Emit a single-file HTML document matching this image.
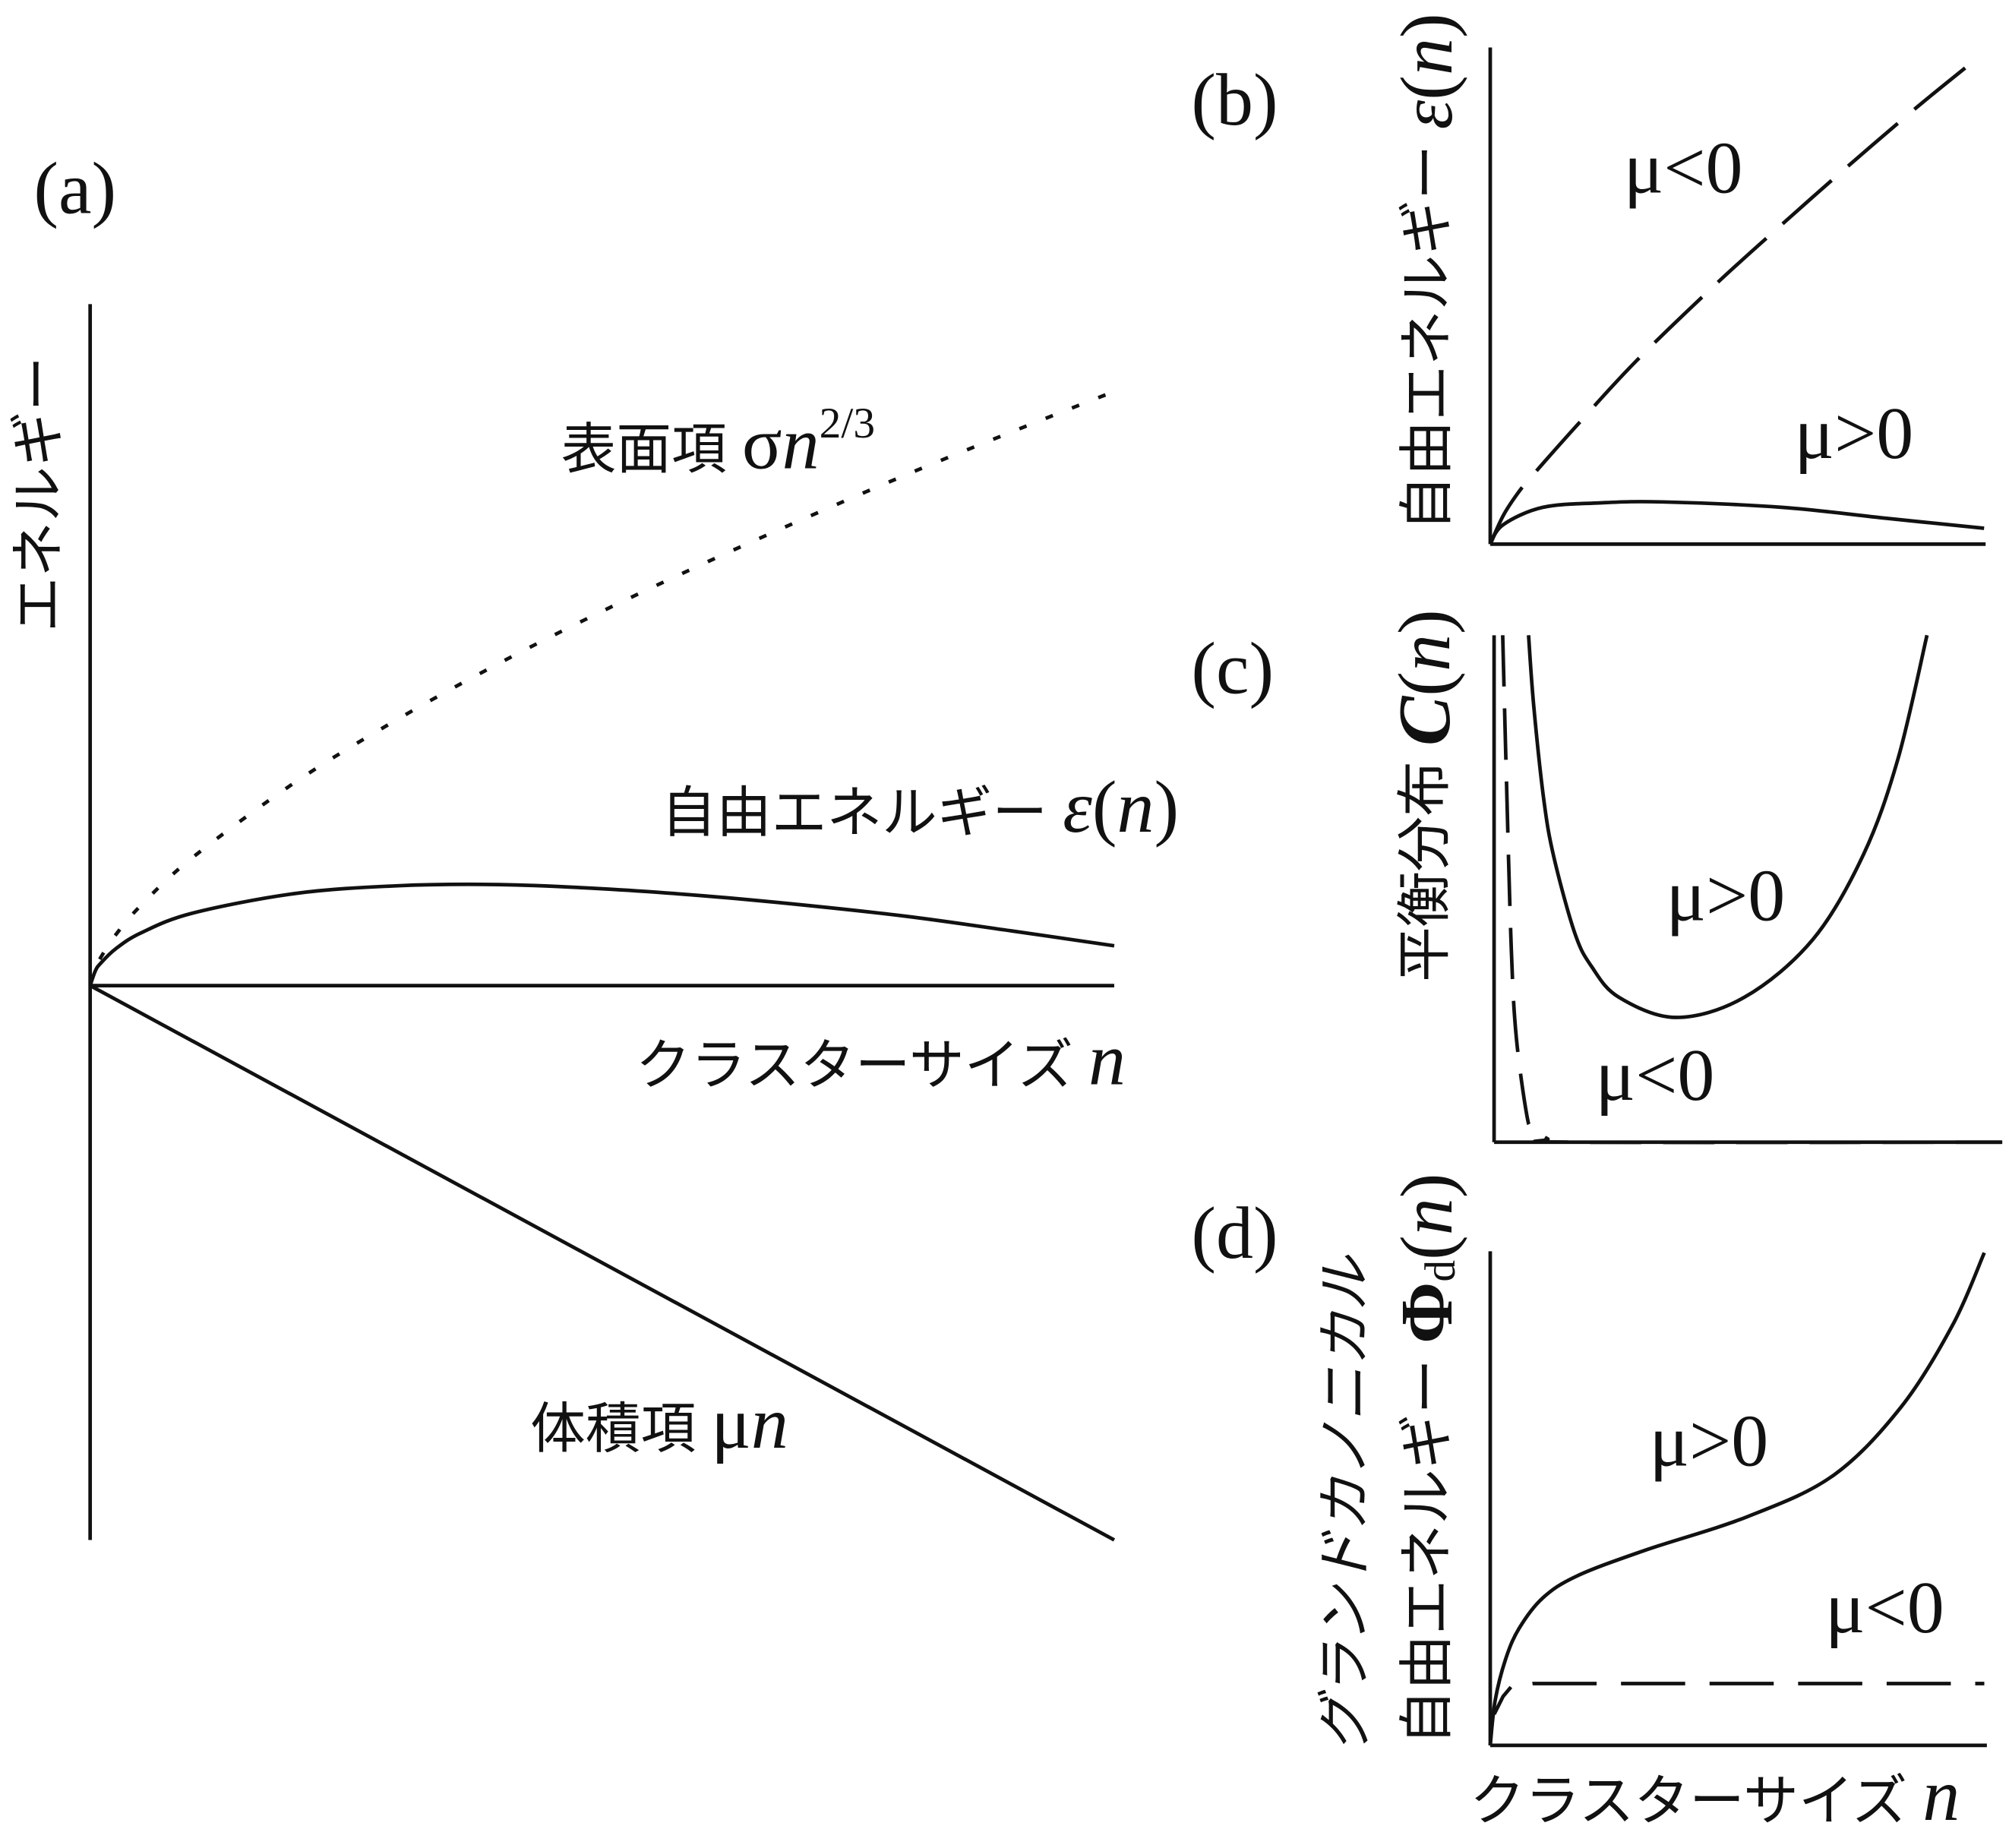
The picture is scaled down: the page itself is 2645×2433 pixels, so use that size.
<!DOCTYPE html>
<html><head><meta charset="utf-8"><style>
html,body{margin:0;padding:0;background:#fff}
svg{display:block}
text{fill:#111;font-family:"Liberation Serif","Noto Serif CJK SC",serif}
.jp{font-family:"Liberation Sans","Noto Sans CJK JP",sans-serif;font-size:43px}
.lbl{font-size:58px}
.m{font-family:"Liberation Serif",serif;font-size:58px}
.ln{fill:none;stroke:#111;stroke-width:2.8}
</style></head><body>
<svg id="chart" width="2645" height="2433" viewBox="0 0 1565 1440" xmlns="http://www.w3.org/2000/svg">
<g id="pa">
<line class="ln" x1="70" y1="237" x2="70" y2="1200"/>
<line class="ln" x1="70" y1="768" x2="868" y2="768"/>
<text class="lbl" x="26" y="166">(a)</text>
<text class="jp" transform="translate(30,385) rotate(-90)" text-anchor="middle" dominant-baseline="central">エネルギー</text>
<text class="jp" x="437" y="365">表面項 <tspan class="m">σ<tspan font-style="italic">n</tspan></tspan><tspan font-family="Liberation Serif" font-size="34" dy="-24">2/3</tspan></text>
<text class="jp" x="515" y="648">自由エネルギー <tspan class="m" font-style="italic">ε</tspan><tspan class="m">(<tspan font-style="italic">n</tspan>)</tspan></text>
<text class="jp" x="495" y="845">クラスターサイズ <tspan class="m" font-style="italic">n</tspan></text>
<text class="jp" x="413" y="1128">体積項 <tspan class="m">μ<tspan font-style="italic">n</tspan></tspan></text>
</g>
<g id="pb">
<line class="ln" x1="1161" y1="37" x2="1161" y2="424"/>
<line class="ln" x1="1161" y1="424" x2="1547" y2="424"/>
<text class="lbl" x="928" y="97">(b)</text>
<text class="jp" transform="translate(1112,212) rotate(-90)" text-anchor="middle" dominant-baseline="central">自由エネルギー <tspan class="m" font-style="italic">ε</tspan><tspan class="m">(<tspan font-style="italic">n</tspan>)</tspan></text>
<text class="lbl" x="1265" y="150">μ&lt;0</text>
<text class="lbl" x="1398" y="357">μ&gt;0</text>
</g>
<g id="pc">
<line class="ln" x1="1164" y1="495" x2="1164" y2="890"/>
<line class="ln" x1="1164" y1="890" x2="1560" y2="890"/>
<text class="lbl" x="928" y="540">(c)</text>
<text class="jp" transform="translate(1110,620) rotate(-90)" text-anchor="middle" dominant-baseline="central">平衡分布 <tspan class="m"><tspan font-style="italic" font-weight="bold">C</tspan>(<tspan font-style="italic">n</tspan>)</tspan></text>
<text class="lbl" x="1298" y="717">μ&gt;0</text>
<text class="lbl" x="1243" y="857">μ&lt;0</text>
</g>
<g id="pd">
<line class="ln" x1="1161" y1="975" x2="1161" y2="1360"/>
<line class="ln" x1="1161" y1="1360" x2="1548" y2="1360"/>
<text class="lbl" x="928" y="980">(d)</text>
<text class="jp" transform="translate(1048,1172) rotate(-90)" text-anchor="middle" dominant-baseline="central" font-style="italic">グランドカノニカル</text>
<text class="jp" transform="translate(1112,1137) rotate(-90)" text-anchor="middle" dominant-baseline="central">自由エネルギー <tspan class="m"><tspan font-weight="bold">Φ</tspan><tspan font-size="34" dy="10">d</tspan><tspan dy="-10">(</tspan><tspan font-style="italic">n</tspan>)</tspan></text>
<text class="lbl" x="1285" y="1142">μ&gt;0</text>
<text class="lbl" x="1422" y="1272">μ&lt;0</text>
<text class="jp" x="1145" y="1418">クラスターサイズ <tspan class="m" font-style="italic">n</tspan></text>
</g>
</svg>
<script>
// Panel (a)
const aN = [0,0.05,0.1,0.25,0.5,1,2,3,4,5,6,7,8,9,10];
const aSurface = [0,0.292,0.464,0.855,1.357,2.155,3.42,4.48,5.43,6.30,7.11,7.88,8.62,9.32,10];
const aFree = [0,0.245,0.371,0.62,0.89,1.22,1.55,1.68,1.70,1.63,1.51,1.35,1.16,0.92,0.67];
const aVolN = [0,10];
const aVolume = [0,-9.33];
// Panel (b)
const bDashN = [0,0.26,0.56,0.85,1.73,2.94,4.55,5.88,7.21,8.58,9.59];
const bDashV = [0,0.57,1.03,1.38,2.37,3.68,5.23,6.43,7.6,8.77,9.59];
const bSolidN = [0,0.26,1.06,2.2,3.48,5.9,8,9.97];
const bSolidV = [0,0.39,0.74,0.83,0.85,0.74,0.52,0.32];
// Panel (c)
const cSolidN = [0.68,0.78,0.98,1.18,1.59,1.92,2.46,3.59,4.94,6.29,7.29,7.97,8.54];
const cSolidV = [10,8.63,6.76,5.62,4.13,3.47,2.86,2.46,2.86,4.0,5.68,7.57,10];
const cDashN = [0.17,0.24,0.34,0.44,0.65,0.75,1.05,1.59,10];
const cDashV = [10,7.29,3.80,2.05,0.51,0.34,0.07,0,0];
// Panel (d)
const dSolidN = [0,0.10,0.31,0.58,1.06,1.76,3.14,5.21,6.94,8.31,9.35,10];
const dSolidV = [0,0.91,1.74,2.36,2.98,3.43,3.95,4.63,5.46,6.84,8.49,9.97];
const dDashN = [0.08,0.26,0.42,0.86,10];
const dDashV = [0.63,0.99,1.18,1.25,1.25];

function axis(x0,x1,y0,y1,d0,d1,r0,r1){return {x:v=>x0+(v-d0)/(d1-d0)*(x1-x0), y:v=>y0+(v-r0)/(r1-r0)*(y1-y0)};}
const axA = axis(70,868,768,305,0,10,0,10);
const axB = axis(1161,1547,424,37,0,10,0,10);
const axC = axis(1164,1559,890,495,0,10,0,10);
const axD = axis(1161,1546,1360,975,0,10,0,10);

function pathD(ax,ns,vs,smooth){
  const p = ns.map((n,i)=>[ax.x(n),ax.y(vs[i])]);
  let d = 'M'+p[0][0].toFixed(2)+','+p[0][1].toFixed(2);
  for(let i=0;i<p.length-1;i++){
    if(!smooth){d+=' L'+p[i+1][0].toFixed(2)+','+p[i+1][1].toFixed(2);continue;}
    const p0=p[Math.max(i-1,0)],p1=p[i],p2=p[i+1],p3=p[Math.min(i+2,p.length-1)];
    const c1=[p1[0]+(p2[0]-p0[0])/6,p1[1]+(p2[1]-p0[1])/6];
    const c2=[p2[0]-(p3[0]-p1[0])/6,p2[1]-(p3[1]-p1[1])/6];
    d+=' C'+c1.map(v=>v.toFixed(2)).join(',')+' '+c2.map(v=>v.toFixed(2)).join(',')+' '+p2.map(v=>v.toFixed(2)).join(',');
  }
  return d;
}
function addPath(gid,d,dash){
  const el=document.createElementNS('http://www.w3.org/2000/svg','path');
  el.setAttribute('d',d);
  el.setAttribute('class','ln');
  if(dash) el.setAttribute('stroke-dasharray',dash);
  document.getElementById(gid).appendChild(el);
  return el;
}
let e;
e=addPath('pa',pathD(axA,aN,aSurface,true),'6 16');


e=addPath('pa',pathD(axA,aN,aFree,true));


e=addPath('pa',pathD(axA,aVolN,aVolume,false));


e=addPath('pb',pathD(axB,bDashN,bDashV,true),'51 17');


e=addPath('pb',pathD(axB,bSolidN,bSolidV,true));


e=addPath('pc',pathD(axC,cSolidN,cSolidV,true));


e=addPath('pc',pathD(axC,cDashN,cDashV,true),'40 17');


e=addPath('pd',pathD(axD,dSolidN,dSolidV,true));


e=addPath('pd',pathD(axD,dDashN,dDashV,false),'25 17 50 19 50 19 50 19 50 19 50 19 50 19 50 19');


</script>
</body></html>
